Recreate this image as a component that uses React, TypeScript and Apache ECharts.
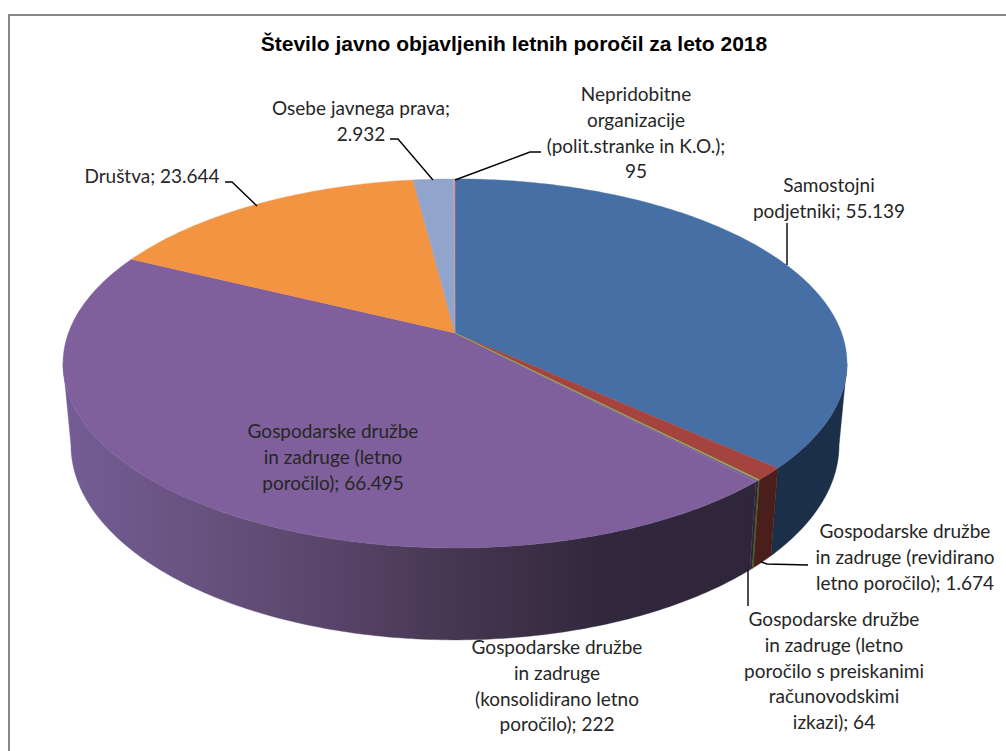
import React, { useEffect, useRef } from "react";
import * as echarts from "echarts";

const titleText = "Število javno objavljenih letnih poročil za leto 2018";
const sliceNames = [
  "Samostojni podjetniki",
  "Gospodarske družbe in zadruge (revidirano letno poročilo)",
  "Gospodarske družbe in zadruge (letno poročilo s preiskanimi računovodskimi izkazi)",
  "Gospodarske družbe in zadruge (konsolidirano letno poročilo)",
  "Gospodarske družbe in zadruge (letno poročilo)",
  "Društva",
  "Osebe javnega prava",
  "Nepridobitne organizacije (polit.stranke in K.O.)",
];
const sliceValues = [55139, 1674, 64, 222, 66495, 23644, 2932, 95];
const topColors = ["#456fa5", "#a5443f", "#8fa850", "#7f609c", "#7f609c", "#f39443", "#91a5cc", "#d99694"];
const wallColors = ["#1b2f48", "#4a1e1b", "#4d5a2a", "#2f2539", null, "#8a5020", "#50607a", "#704c4b"];

const labelTexts = [
  "Samostojni\npodjetniki; 55.139",
  "Gospodarske družbe\nin zadruge (revidirano\nletno poročilo); 1.674",
  "Gospodarske družbe\nin zadruge (letno\nporočilo s preiskanimi\nračunovodskimi\nizkazi); 64",
  "Gospodarske družbe\nin zadruge\n(konsolidirano letno\nporočilo); 222",
  "Gospodarske družbe\nin zadruge (letno\nporočilo); 66.495",
  "Društva; 23.644",
  "Osebe javnega prava;\n2.932",
  "Nepridobitne\norganizacije\n(polit.stranke in K.O.);\n95",
];
// x centre and y of the first line's middle
const labelAnchors = [
  [829, 185], [905, 531], [834, 619], [557, 647], [333, 431], [152, 176], [361, 108], [636, 94],
];
const leaderLines = [
  [[787, 223], [787, 265]],
  [[761, 562], [767, 564], [808, 565]],
  [[748, 570], [748, 606]],
  [[225, 182], [232, 182], [257, 206]],
  [[390, 139], [398, 139], [433, 180]],
  [[455, 180], [530, 152], [541, 152]],
];

const total = sliceValues.reduce((a, b) => a + b, 0);
const CX = 455;
const K = 0.165;
const TOP = { y0: 333, R: 386.6, A: 179.5 };
const BOTTOM = { y0: 412.7, R: 378.8, A: 189.7 };
// angles where the side wall meets the silhouette of the disc
const WALL_FROM = 90 + (Math.asin(K) * 180) / Math.PI;
const WALL_TO = 270 - (Math.asin(K) * 180) / Math.PI;

const project = (p: { y0: number; R: number; A: number }, deg: number) => {
  const t = (deg * Math.PI) / 180;
  const u = Math.sin(t);
  const v = -Math.cos(t);
  const s = 1 / (1 - K * v);
  return [CX + p.R * u * s, p.y0 + p.A * v * s];
};
const arc = (p: { y0: number; R: number; A: number }, a: number, b: number) => {
  const n = Math.max(2, Math.ceil((b - a) / 0.75));
  const pts: number[][] = [];
  for (let i = 0; i <= n; i++) pts.push(project(p, a + ((b - a) * i) / n));
  return pts;
};
const angles = (idx: number) => {
  let before = 0;
  for (let i = 0; i < idx; i++) before += sliceValues[i];
  return [(before / total) * 360, ((before + sliceValues[idx]) / total) * 360];
};

const purpleWall = new echarts.graphic.LinearGradient(
  63, 0, 847, 0,
  [
    { offset: 0, color: "#745d95" },
    { offset: 0.17, color: "#68527f" },
    { offset: 0.35, color: "#584469" },
    { offset: 0.5, color: "#463650" },
    { offset: 0.68, color: "#32283d" },
    { offset: 1, color: "#2d2438" },
  ],
  true
);

export default function App() {
  const ref = useRef<HTMLDivElement>(null);
  useEffect(() => {
    const chart = echarts.init(ref.current!, undefined, { renderer: "svg" });
    const data = sliceValues.map((v, i) => ({ name: sliceNames[i], value: [v, i] }));
    chart.setOption({
      animation: false,
      backgroundColor: "#ffffff",
      title: {
        text: titleText,
        left: 509,
        top: 28,
        textAlign: "center",
        textStyle: { fontFamily: "Liberation Sans", fontWeight: "bold", fontSize: 21, color: "#000000" },
      },
      series: [
        {
          type: "custom",
          name: "walls",
          coordinateSystem: "none",
          z: 2,
          silent: true,
          data,
          renderItem: (_p: any, api: any) => {
            const idx = api.value(1);
            const [a0, b0] = angles(idx);
            const a = Math.max(a0, WALL_FROM);
            const b = Math.min(b0, WALL_TO);
            if (b <= a) return { type: "group", children: [] };
            const pts = arc(TOP, a, b).concat(arc(BOTTOM, a, b).reverse());
            const fill = wallColors[idx] ?? purpleWall;
            return {
              type: "polygon",
              z2: idx === 2 ? 5 : 1,
              shape: { points: pts },
              style: { fill, stroke: fill, lineWidth: idx === 2 ? 0.9 : 0.4 },
            };
          },
        },
        {
          type: "custom",
          name: "tops",
          coordinateSystem: "none",
          z: 3,
          silent: true,
          data,
          renderItem: (_p: any, api: any) => {
            const idx = api.value(1);
            const [a, b] = angles(idx);
            const pts = [[CX, TOP.y0]].concat(arc(TOP, a, b));
            return {
              type: "polygon",
              z2: idx === 2 ? 5 : 1,
              shape: { points: pts },
              style: { fill: topColors[idx], stroke: topColors[idx], lineWidth: idx === 2 ? 0.8 : 0.4 },
            };
          },
        },
      ],
      graphic: [
        {
          type: "rect",
          z: 1,
          silent: true,
          shape: { x: 9, y: 15, width: 1100, height: 900 },
          style: { fill: "none", stroke: "#868686", lineWidth: 2 },
        },
        ...leaderLines.map((pts) => ({
          type: "polyline",
          z: 50,
          silent: true,
          shape: { points: pts },
          style: { fill: "none", stroke: "#000000", lineWidth: 1.4 },
        })),
        ...labelTexts.map((t, i) => ({
          type: "text",
          z: 60,
          silent: true,
          x: labelAnchors[i][0],
          y: labelAnchors[i][1] - 12.8,
          style: {
            text: t,
            textAlign: "center",
            textVerticalAlign: "top",
            fontFamily: "Lato",
            fontSize: 19,
            lineHeight: 25.6,
            fill: "#262626",
          },
        })),
      ],
    });
    return () => chart.dispose();
  }, []);
  return <div ref={ref} style={{ position: "fixed", left: 0, top: 0, width: 1006, height: 751 }} />;
}
